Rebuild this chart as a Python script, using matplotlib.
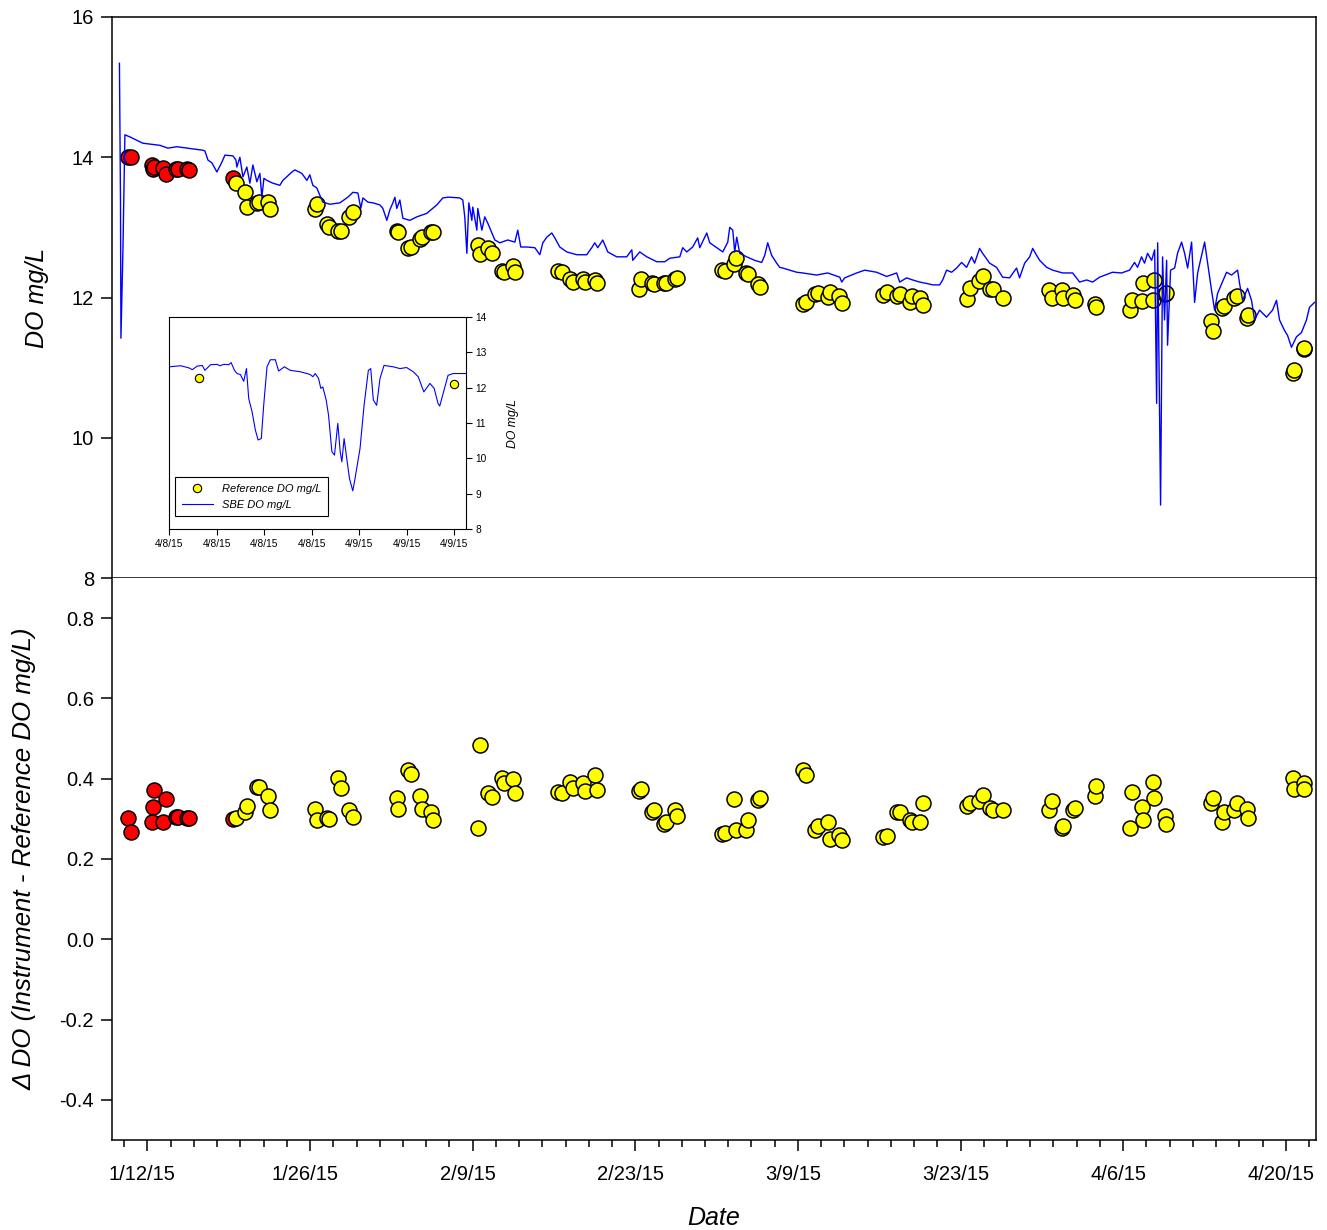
import numpy as np
import matplotlib
matplotlib.use("Agg")
import matplotlib.pyplot as plt
import matplotlib.dates as mdates
import matplotlib.transforms as mtransforms
from matplotlib.ticker import FixedLocator, MultipleLocator, FuncFormatter
from datetime import datetime, timedelta

plt.rcParams['font.family'] = ['Liberation Sans', 'DejaVu Sans']

BASE = datetime(2015, 1, 12)

# ---------------- data: reference samples (days since 1/12/15) ----------------
red_days = [-1.68, -1.42, 0.39, 0.47, 0.56, 1.33, 1.59, 2.45, 2.62, 3.40, 3.57, 7.36]
red_ref = [14.00, 14.01, 13.89, 13.83, 13.86, 13.84, 13.76, 13.83, 13.83, 13.83, 13.82, 13.71]
red_delta = [0.303, 0.268, 0.291, 0.330, 0.373, 0.291, 0.350, 0.305, 0.305, 0.303, 0.303, 0.300]

yel_days = [7.62, 8.39, 8.56, 9.42, 9.60, 10.37, 10.54,
            14.41, 14.59, 15.45, 15.62, 16.39, 16.65, 17.34, 17.69,
            21.47, 21.56, 22.42, 22.68, 23.45, 23.62, 24.40, 24.57,
            28.44, 28.61, 29.30, 29.65, 30.50, 30.68, 31.45, 31.63,
            35.33, 35.67, 36.36, 36.62, 37.48, 37.65, 38.51, 38.68,
            42.30, 42.47, 43.42, 43.59, 44.45, 44.62, 45.40, 45.57,
            49.45, 49.70, 50.47, 50.65, 51.51, 51.68, 52.54, 52.71,
            56.40, 56.67, 57.44, 57.70, 58.56, 58.73, 59.50, 59.76,
            63.30, 63.64, 64.50, 64.76, 65.62, 65.79, 66.48, 66.74,
            70.52, 70.78, 71.55, 71.90, 72.50, 72.76, 73.62,
            77.58, 77.84, 78.70, 78.79, 79.65, 79.82, 81.54, 81.63,
            84.55, 84.72, 85.58, 85.67, 86.53, 86.62, 87.56, 87.65,
            91.60, 91.77, 92.55, 92.72, 93.58, 93.77, 94.63, 94.71,
            98.58, 98.67, 99.53, 99.60]
yel_ref = [13.63, 13.50, 13.29, 13.35, 13.36, 13.36, 13.26,
           13.26, 13.33, 13.05, 13.00, 12.95, 12.95, 13.15, 13.22,
           12.95, 12.94, 12.70, 12.72, 12.83, 12.86, 12.94, 12.94,
           12.75, 12.62, 12.70, 12.64, 12.38, 12.36, 12.45, 12.36,
           12.38, 12.36, 12.26, 12.22, 12.26, 12.22, 12.25, 12.21,
           12.12, 12.26, 12.21, 12.19, 12.21, 12.21, 12.27, 12.28,
           12.39, 12.38, 12.48, 12.56, 12.35, 12.33, 12.19, 12.15,
           11.91, 11.94, 12.05, 12.06, 12.01, 12.08, 12.02, 11.92,
           12.03, 12.08, 12.02, 12.05, 11.93, 12.02, 11.99, 11.89,
           11.98, 12.13, 12.23, 12.31, 12.12, 12.12, 11.99,
           12.11, 12.00, 12.11, 12.00, 12.03, 11.96, 11.91, 11.86,
           11.82, 11.96, 11.95, 12.21, 11.96, 12.25, 12.05, 12.07,
           11.66, 11.52, 11.85, 11.88, 11.99, 12.02, 11.71, 11.75,
           10.92, 10.96, 11.26, 11.28]
yel_delta = [0.303, 0.318, 0.333, 0.380, 0.380, 0.358, 0.323,
             0.325, 0.296, 0.303, 0.300, 0.402, 0.378, 0.323, 0.305,
             0.353, 0.325, 0.422, 0.412, 0.358, 0.325, 0.318, 0.296,
             0.276, 0.484, 0.365, 0.355, 0.402, 0.390, 0.400, 0.365,
             0.368, 0.365, 0.393, 0.378, 0.390, 0.370, 0.410, 0.373,
             0.370, 0.375, 0.316, 0.323, 0.286, 0.291, 0.323, 0.306,
             0.263, 0.266, 0.350, 0.271, 0.271, 0.298, 0.348, 0.353,
             0.422, 0.410, 0.271, 0.283, 0.291, 0.251, 0.261, 0.248,
             0.256, 0.258, 0.318, 0.316, 0.298, 0.293, 0.293, 0.340,
             0.333, 0.340, 0.345, 0.360, 0.328, 0.323, 0.323,
             0.323, 0.345, 0.276, 0.283, 0.323, 0.328, 0.358, 0.383,
             0.278, 0.368, 0.330, 0.296, 0.393, 0.353, 0.306, 0.286,
             0.340, 0.353, 0.293, 0.318, 0.323, 0.340, 0.325, 0.301,
             0.402, 0.375, 0.390, 0.375]

# ---------------- data: SBE instrument trace (days since 1/12/15) ----------------
sbe_days = [-2.41, -2.32, -2.28, -2.11, -1.94, -1.51, -0.39, 1.08, 1.76, 2.54, 4.78, 4.95,
            5.21, 5.55, 5.98, 6.41, 6.67, 7.36, 7.62, 7.70, 7.96, 8.22, 8.56, 8.82, 9.08,
            9.42, 9.68, 9.85, 10.03, 10.28, 10.80, 11.40, 11.66, 12.44, 12.69, 13.29, 13.73,
            13.98, 14.24, 14.59, 14.76, 15.10, 15.71, 16.57, 17.25, 17.69, 18.12, 18.37, 18.55,
            18.98, 19.41, 20.01, 20.27, 20.61, 20.87, 21.13, 21.30, 21.47, 21.73, 21.99, 22.59,
            23.19, 24.05, 24.91, 25.43, 25.86, 26.03, 26.89, 27.15, 27.32, 27.50, 27.67, 27.93,
            28.01, 28.36, 28.44, 28.79, 29.04, 29.30, 29.65, 29.91, 30.34, 31.02, 31.63, 31.88,
            32.14, 32.66, 33.35, 33.78, 34.04, 34.38, 34.81, 35.07, 35.50, 36.10, 36.96, 37.82,
            38.25, 38.51, 38.77, 39.20, 39.63, 40.40, 41.26, 41.70, 41.78, 42.38, 42.99, 43.85,
            44.54, 44.97, 45.83, 46.08, 46.43, 46.94, 47.37, 47.55, 48.15, 48.41, 49.01, 49.53,
            49.96, 50.13, 50.39, 50.56, 50.73, 50.99, 51.59, 52.28, 52.88, 53.14, 53.40, 53.74,
            54.17, 54.43, 54.69, 55.90, 56.41, 57.61, 58.56, 59.60, 59.77, 60.03, 61.06, 61.75,
            62.78, 63.64, 64.50, 64.76, 65.36, 65.88, 66.48, 67.09, 67.60, 68.20, 68.46, 68.80,
            69.23, 69.66, 70.09, 70.52, 70.95, 71.21, 71.64, 71.90, 72.50, 73.10, 73.62, 74.22,
            74.82, 75.08, 75.52, 75.95, 76.21, 76.55, 76.81, 77.41, 77.93, 78.79, 79.65, 80.25,
            80.85, 81.37, 81.97, 83.08, 83.86, 84.55, 84.98, 85.24, 85.58, 85.84, 86.10, 86.45,
            86.71, 86.88, 86.97, 87.22, 87.39, 87.56, 87.74, 87.82, 88.08, 88.43, 88.68, 89.03,
            89.29, 89.55, 89.89, 90.15, 90.41, 91.01, 91.27, 91.61, 91.87, 92.13, 92.90, 93.33,
            93.85, 94.02, 94.28, 94.71, 95.05, 95.31, 95.74, 96.34, 96.86, 97.20, 97.46, 97.89,
            98.15, 98.49, 98.92, 99.35, 99.78, 100.04, 100.47]
sbe_do = [15.34, 13.39, 11.42, 12.67, 14.32, 14.29, 14.20, 14.17, 14.13, 14.15, 14.10, 14.09,
          13.96, 13.92, 13.79, 13.93, 14.03, 14.02, 13.96, 13.86, 14.00, 13.72, 13.86, 13.63, 13.89,
          13.65, 13.77, 13.43, 13.70, 13.67, 13.63, 13.60, 13.67, 13.79, 13.82, 13.77, 13.67,
          13.75, 13.60, 13.56, 13.49, 13.36, 13.33, 13.35, 13.43, 13.50, 13.49, 13.27, 13.42,
          13.36, 13.35, 13.32, 13.27, 13.10, 13.25, 13.35, 13.43, 13.27, 13.39, 13.13, 13.10,
          13.15, 13.20, 13.32, 13.42, 13.43, 13.43, 13.42, 13.39, 13.15, 12.63, 13.35, 13.10,
          13.29, 12.96, 13.27, 12.96, 13.15, 13.06, 12.92, 12.82, 12.78, 12.82, 12.79, 12.96,
          12.72, 12.72, 12.71, 12.61, 12.78, 12.86, 12.92, 12.85, 12.72, 12.65, 12.61, 12.61,
          12.71, 12.78, 12.71, 12.82, 12.65, 12.58, 12.58, 12.68, 12.53, 12.65, 12.58, 12.51,
          12.51, 12.56, 12.58, 12.71, 12.65, 12.72, 12.85, 12.71, 12.92, 12.78, 12.71, 12.65,
          12.79, 13.00, 12.96, 12.65, 12.86, 12.63, 12.58, 12.53, 12.50, 12.60, 12.78, 12.60,
          12.49, 12.43, 12.42, 12.36, 12.35, 12.32, 12.35, 12.29, 12.22, 12.28, 12.35, 12.39,
          12.36, 12.30, 12.35, 12.22, 12.28, 12.25, 12.22, 12.20, 12.18, 12.18, 12.25, 12.39,
          12.36, 12.42, 12.50, 12.43, 12.58, 12.49, 12.70, 12.63, 12.49, 12.43, 12.29, 12.28,
          12.42, 12.28, 12.49, 12.58, 12.70, 12.60, 12.53, 12.43, 12.39, 12.35, 12.35, 12.22,
          12.25, 12.22, 12.29, 12.36, 12.35, 12.39, 12.50, 12.43, 12.58, 12.49, 12.63, 12.53,
          12.68, 10.49, 12.78, 9.04, 12.58, 11.68, 12.53, 11.32, 12.39, 12.42, 12.63, 12.79,
          12.63, 12.42, 12.79, 11.93, 12.35, 12.79, 12.49, 12.10, 11.82, 12.06, 12.36, 12.32,
          12.39, 12.20, 11.96, 12.13, 11.96, 11.68, 11.82, 11.72, 11.82, 11.96, 11.68, 11.53,
          11.46, 11.29, 11.44, 11.50, 11.68, 11.86, 11.93]

# ---------------- inset data (hours since 4/8/15 08:00) ----------------
INSET_BASE = datetime(2015, 4, 8, 8, 0)
inset_hours = [0.0, 0.98, 1.68, 1.96, 2.38, 2.80, 3.02, 3.50, 4.06, 4.28, 4.62, 5.03, 5.23,
               5.51, 5.73, 6.01, 6.29, 6.52, 6.71, 6.99, 7.27, 7.50, 7.77, 7.97, 8.25, 8.53,
               8.95, 9.23, 9.71, 10.21, 11.05, 11.61, 11.89, 12.11, 12.31, 12.59, 12.78, 12.95,
               13.23, 13.43, 13.71, 13.93, 14.21, 14.41, 14.55, 14.74, 14.96, 15.19, 15.47,
               15.66, 16.08, 16.42, 16.78, 16.98, 17.20, 17.48, 17.76, 18.10, 18.88, 19.44,
               20.00, 20.56, 20.98, 21.45, 21.96, 22.32, 22.65, 22.79, 23.07, 23.49, 23.91, 24.98]
inset_do = [12.59, 12.62, 12.56, 12.51, 12.61, 12.63, 12.49, 12.65, 12.66, 12.62, 12.66, 12.65,
            12.71, 12.49, 12.40, 12.37, 12.18, 12.54, 11.69, 11.32, 10.80, 10.52, 10.56, 11.50,
            12.59, 12.79, 12.79, 12.47, 12.59, 12.49, 12.45, 12.40, 12.37, 12.31, 12.40, 12.26,
            11.98, 12.02, 11.65, 11.22, 10.19, 10.09, 10.99, 10.19, 9.90, 10.56, 10.00, 9.43,
            9.08, 9.43, 10.28, 11.50, 12.49, 12.54, 11.65, 11.50, 12.26, 12.63, 12.59, 12.54,
            12.57, 12.45, 12.31, 11.88, 12.12, 11.98, 11.55, 11.48, 11.83, 12.35, 12.40, 12.40]
inset_ref_hours = [2.52, 23.97]
inset_ref_do = [12.26, 12.10]

# ---------------- helpers ----------------
def to_num(days, base=BASE, unit='days'):
    if unit == 'days':
        return [mdates.date2num(base + timedelta(days=d)) for d in days]
    return [mdates.date2num(base + timedelta(hours=h)) for h in days]

def mdy(x, pos=None):
    d = mdates.num2date(x)
    return f"{d.month}/{d.day}/{d.strftime('%y')}"

W, H = 1327, 1230
fig = plt.figure(figsize=(W / 100, H / 100), dpi=100)

def rect(x0, y0, x1, y1):
    return [x0 / W, 1 - y1 / H, (x1 - x0) / W, (y1 - y0) / H]

ax1 = fig.add_axes(rect(112, 17, 1316, 578))
ax2 = fig.add_axes(rect(112, 578, 1316, 1140))

xmin = mdates.date2num(BASE + timedelta(days=-3.05))
xmax = mdates.date2num(BASE + timedelta(days=100.6))
major_ticks = to_num([0, 14, 28, 42, 56, 70, 84, 98])
minor_ticks = to_num(list(range(-2, 101, 2)))

mk = dict(marker='o', linestyle='none', markersize=10.8, markeredgecolor='black',
          markeredgewidth=1.1)

for ax in (ax1, ax2):
    ax.set_xlim(xmin, xmax)
    ax.xaxis.set_major_locator(FixedLocator(major_ticks))
    ax.xaxis.set_minor_locator(FixedLocator(minor_ticks))
    ax.xaxis.set_major_formatter(FuncFormatter(mdy))
    ax.tick_params(axis='both', which='major', direction='out', length=8, width=1.1,
                   labelsize=14.5, pad=5)
    ax.tick_params(axis='x', which='minor', direction='out', length=5, width=1.1)
    for s in ax.spines.values():
        s.set_linewidth(1.1)

# top panel
ax1.plot(to_num(red_days), red_ref, color='#FF0000', zorder=3, **mk)
ax1.plot(to_num(yel_days), yel_ref, color='#FFFF00', zorder=3, **mk)
ax1.plot(to_num(sbe_days), sbe_do, color='#0000FF', lw=1.0, zorder=4)
ax1.set_ylim(8, 16)
ax1.yaxis.set_major_locator(MultipleLocator(2))
ax1.tick_params(axis='x', labelbottom=False)
ax1.set_ylabel('DO mg/L', fontsize=18, style='italic')
ax1.yaxis.set_label_coords(-0.052, 0.5)

# bottom panel
ax2.plot(to_num(red_days), red_delta, color='#FF0000', zorder=3, **mk)
ax2.plot(to_num(yel_days), yel_delta, color='#FFFF00', zorder=3, **mk)
ax2.set_ylim(-0.5, 0.9)
ax2.yaxis.set_major_locator(FixedLocator([-0.4, -0.2, 0.0, 0.2, 0.4, 0.6, 0.8]))
ax2.yaxis.set_major_formatter(FuncFormatter(lambda v, p: f"{v:.1f}"))
ax2.spines['top'].set_visible(False)
ax2.set_ylabel('Δ DO (Instrument - Reference DO mg/L)', fontsize=18.6, style='italic')
ax2.yaxis.set_label_coords(-0.063, 0.5)
ax2.set_xlabel('Date', fontsize=18, style='italic')
ax2.xaxis.set_label_coords(0.5, -0.118)
ax2.tick_params(axis='x', which='major', pad=10)
shift = mtransforms.ScaledTranslation(-5 / 100, 0, fig.dpi_scale_trans)
for lab in ax2.get_xticklabels():
    lab.set_transform(lab.get_transform() + shift)

# inset
axi = fig.add_axes(rect(169, 317, 466, 529))
axi.plot(to_num(inset_ref_hours, INSET_BASE, 'hours'), inset_ref_do, color='#FFFF00',
         marker='o', linestyle='none', markersize=6, markeredgecolor='black',
         markeredgewidth=0.8, label='Reference DO mg/L', zorder=3)
axi.plot(to_num(inset_hours, INSET_BASE, 'hours'), inset_do, color='#0000FF', lw=0.8,
         label='SBE DO mg/L', zorder=2)
axi.set_xlim(mdates.date2num(INSET_BASE), mdates.date2num(INSET_BASE + timedelta(hours=25)))
axi.set_ylim(8, 14)
axi.xaxis.set_major_locator(FixedLocator(to_num([0, 4, 8, 12, 16, 20, 24], INSET_BASE, 'hours')))
axi.xaxis.set_major_formatter(FuncFormatter(mdy))
axi.yaxis.set_major_locator(MultipleLocator(1))
axi.yaxis.tick_right()
axi.yaxis.set_label_position('right')
axi.tick_params(axis='both', direction='out', length=4, width=0.8, labelsize=7.3, pad=3)
for s in axi.spines.values():
    s.set_linewidth(0.8)
axi.set_ylabel('DO mg/L', fontsize=8.8, style='italic', labelpad=14)
leg = axi.legend(loc='lower left', bbox_to_anchor=(0.02, 0.06), fontsize=8,
                 frameon=True, fancybox=False, edgecolor='black', framealpha=1,
                 borderaxespad=0, handlelength=2.8, borderpad=0.6, labelspacing=0.5)
leg.get_frame().set_linewidth(0.8)
for t in leg.get_texts():
    t.set_style('italic')

fig.savefig('out.png', dpi=100)
